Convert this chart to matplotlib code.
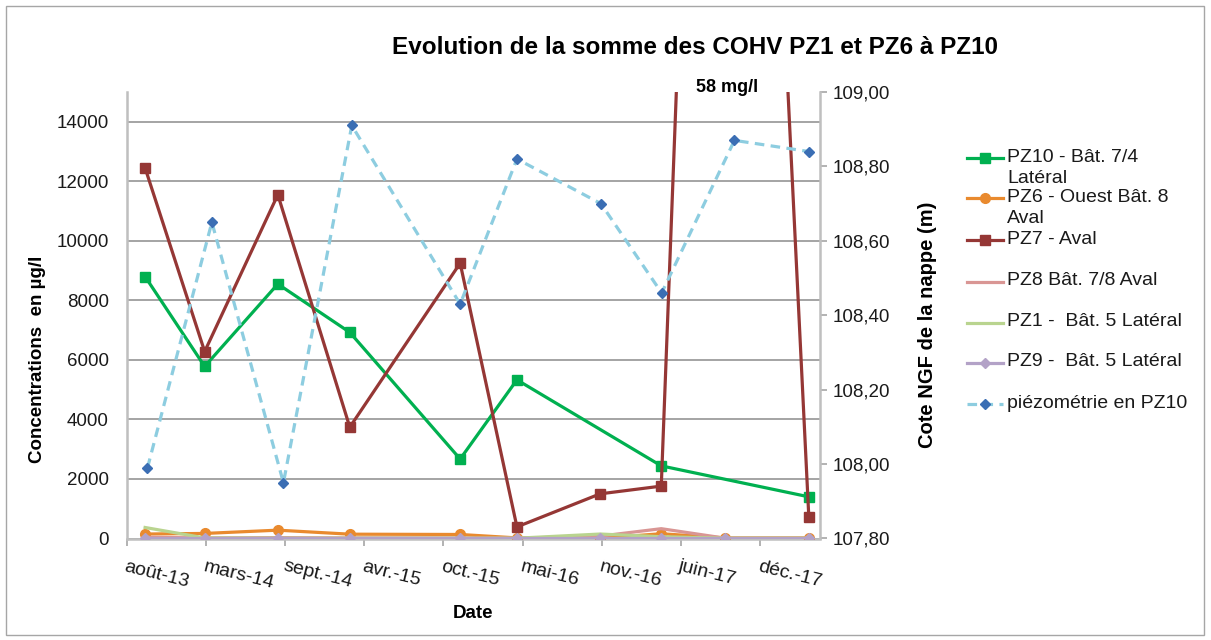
import numpy as np
import matplotlib
matplotlib.use("Agg")
import matplotlib.pyplot as plt
from matplotlib.lines import Line2D
from matplotlib.patches import Rectangle
from matplotlib.ticker import FuncFormatter, MultipleLocator

plt.rcParams['font.family'] = ['Liberation Sans', 'DejaVu Sans']

# ---------------- data ----------------
sample_dates = ["2013-09-30", "2014-02-26", "2014-08-28", "2015-02-24", "2015-11-27",
                "2016-04-17", "2016-11-11", "2017-04-13", "2017-09-20", "2018-04-17"]
pz10_dates = ["2013-09-30", "2014-02-26", "2014-08-28", "2015-02-24", "2015-11-27",
              "2016-04-17", "2017-04-13", "2018-04-17"]
pz10 = [8800, 5780, 8550, 6925, 2670, 5330, 2440, 1400]
pz6 = [150, 170, 280, 145, 135, 20, 10, 160, 20, 20]
pz7 = [12450, 6280, 11550, 3740, 9250, 390, 1500, 1760, 58000, 730]
pz8 = [40, 20, 30, 20, 20, 10, 80, 330, 10, 10]
pz1 = [370, 20, 10, 10, 10, 10, 150, 60, 10, 10]
pz9 = [10, 10, 10, 10, 10, 10, 10, 10, 10, 10]
piezo_dates = ["2013-10-06", "2014-03-16", "2014-09-11", "2015-03-01", "2015-11-27",
               "2016-04-17", "2016-11-13", "2017-04-14", "2017-10-13", "2018-04-17"]
piezo = [107.99, 108.65, 107.95, 108.91, 108.43, 108.82, 108.70, 108.46, 108.87, 108.84]

tick_dates = ["2013-08-15", "2014-03-01", "2014-09-15", "2015-04-01", "2015-10-16",
              "2016-05-01", "2016-11-15", "2017-06-01", "2017-12-16"]
tick_labels = ["août-13", "mars-14", "sept.-14", "avr.-15", "oct.-15",
               "mai-16", "nov.-16", "juin-17", "déc.-17"]
x_range = ["2013-08-15", "2018-05-15"]

labels = ["PZ10 - Bât. 7/4\nLatéral", "PZ6 - Ouest Bât. 8\nAval", "PZ7 - Aval",
          "PZ8 Bât. 7/8 Aval", "PZ1 -  Bât. 5 Latéral", "PZ9 -  Bât. 5 Latéral",
          "piézométrie en PZ10"]

d = lambda lst: np.array(lst, dtype="datetime64[D]")

# ---------------- figure ----------------
W, H = 1211, 640
fig = plt.figure(figsize=(W / 100, H / 100), dpi=100)
fig.add_artist(Rectangle((6 / W, 5 / H), 1198 / W, 629 / H, transform=fig.transFigure,
                         fill=False, edgecolor="#A6A6A6", linewidth=1.0))

L, R, T, B = 126.7, 820, 92, 538.5
ax = fig.add_axes([L / W, 1 - B / H, (R - L) / W, (B - T) / H])
ax2 = ax.twinx()
ax.set_zorder(1)
ax2.set_zorder(2)
ax.patch.set_visible(False)

green = "#00B050"
orange = "#E98A2E"
darkred = "#953735"
pink = "#D99694"
lgreen = "#B9D48F"
purple = "#B3A2C7"
lblue = "#8DCDE0"
dblue = "#3B6EB4"

sd = d(sample_dates)
styles = [
    dict(color=green, marker="s", ms=7, lw=2.3),
    dict(color=orange, marker="o", ms=7, lw=2.3),
    dict(color=darkred, marker="s", ms=7, lw=2.3),
    dict(color=pink, marker=None, lw=2.3),
    dict(color=lgreen, marker=None, lw=2.3),
    dict(color=purple, marker="D", ms=5, lw=2.3),
]
ax.plot(d(pz10_dates), pz10, zorder=3, **styles[0])
ax.plot(sd, pz6, zorder=4, **styles[1])
ax.plot(sd, pz7, zorder=5, **styles[2])
ax.plot(sd, pz8, zorder=6, **styles[3])
ax.plot(sd, pz1, zorder=7, **styles[4])
ax.plot(sd, pz9, zorder=8, **styles[5])

ax2.plot(d(piezo_dates), piezo, color=lblue, lw=2.3, ls=(0, (3, 2)),
         marker="D", ms=5.5, mfc=dblue, mec=dblue, zorder=3)

# axes limits / ticks
ax.set_xlim(d(x_range))
ax.set_ylim(0, 15000)
ax.set_yticks(np.arange(0, 14001, 2000))
ax.yaxis.grid(True, color="#8C8C8C", lw=1.1)
ax.set_axisbelow(True)
ax.set_xticks(d(tick_dates))
ax.set_xticklabels(tick_labels, rotation=-14, ha="left", va="top",
                   rotation_mode="anchor", fontsize=14, color="#1A1A1A")
ax.tick_params(axis="x", length=5, width=1.2, color="#A6A6A6", pad=9)
ax.tick_params(axis="y", length=0, pad=13, labelsize=13.5, labelcolor="#1A1A1A")

ax2.set_ylim(107.8, 109.0)
ax2.yaxis.set_major_locator(MultipleLocator(0.2))
ax2.yaxis.set_major_formatter(FuncFormatter(lambda v, p: f"{v:.2f}".replace(".", ",")))
ax2.tick_params(axis="y", length=5, width=1.2, color="#A6A6A6", pad=4,
                labelsize=13.5, labelcolor="#1A1A1A")

for a in (ax, ax2):
    a.spines["top"].set_visible(False)
    for s in ("left", "right", "bottom"):
        a.spines[s].set_color("#BFBFBF")
        a.spines[s].set_linewidth(1.8)
ax.spines["right"].set_visible(False)
ax2.spines["left"].set_visible(False)
ax2.spines["bottom"].set_visible(False)

ax.set_ylabel("Concentrations  en µg/l", fontsize=13.5, fontweight="bold")
ax.yaxis.set_label_coords(-0.117, 0.402)
ax2.set_ylabel("Cote NGF de la nappe (m)", fontsize=14.5, fontweight="bold")
ax2.yaxis.set_label_coords(1.142, 0.478)
ax.set_xlabel("Date", fontsize=13.5, fontweight="bold")
ax.xaxis.set_label_coords(0.5, -0.150)

fig.text(695 / W, 1 - 47 / H, "Evolution de la somme des COHV PZ1 et PZ6 à PZ10",
         ha="center", va="center", fontsize=17.5, fontweight="bold")

ax.annotate("58 mg/l", xy=(sd[int(np.argmax(pz7))], 1.0), xycoords=("data", "axes fraction"),
            xytext=(1, 3.5), textcoords="offset points", ha="center", va="center",
            fontsize=13, fontweight="bold", annotation_clip=False)

# legend (drawn manually to mimic Excel layout)
leg_y = [158.3, 198.3, 240, 281.7, 322.7, 362.7, 404]
x0, x1, xt = 967, 1003, 1007
handles = styles + [dict(color=lblue, marker="D", ms=5.5, lw=2.3, ls=(0, (3, 2)),
                         mfc=dblue, mec=dblue)]
for y, lab, st in zip(leg_y, labels, handles):
    st = dict(st)
    lw = st.pop("lw")
    ls = st.pop("ls", "-")
    mk = st.pop("marker")
    ms = st.pop("ms", 0)
    col = st.pop("color")
    fy = 1 - y / H
    fig.add_artist(Line2D([x0 / W, x1 / W], [fy, fy], transform=fig.transFigure,
                          color=col, lw=lw, ls=ls))
    if mk:
        fig.add_artist(Line2D([(x0 + x1) / 2 / W], [fy], transform=fig.transFigure,
                              color=col, marker=mk, ms=ms, lw=0, **st))
    fig.text(xt / W, 1 - (y - 9.5) / H, lab, ha="left", va="top", fontsize=14,
             color="#1A1A1A", linespacing=1.35)

fig.savefig("out.png", dpi=100)
